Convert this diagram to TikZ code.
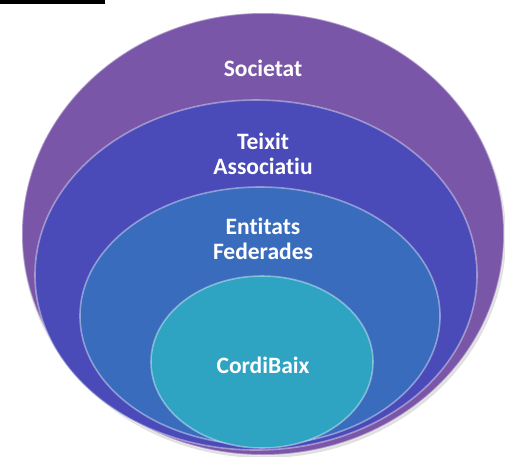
\documentclass[tikz,border=0pt]{standalone}
\usepackage{fontspec}
\setmainfont[Ligatures=NoCommon]{Carlito}
\usetikzlibrary{shapes.geometric}
\definecolor{socC}{HTML}{7A56A8}
\definecolor{teiC}{HTML}{4A4BB8}
\definecolor{entC}{HTML}{3A6CBE}
\definecolor{corC}{HTML}{2EA3C2}
\tikzset{
  ring/.style={ellipse, inner sep=0pt, draw=white, draw opacity=0.4, line width=1.6pt},
  lbl/.style={text=white, font=\fontsize{23.5}{25}\selectfont\bfseries, align=center, inner sep=0pt}
}
\begin{document}
\begin{tikzpicture}[x=1pt,y=-1pt]
\useasboundingbox (0,0) rectangle (505,456);
\fill[white] (0,0) rectangle (505,456);
\fill[black] (0,0) rectangle (105,3.5);
% soft shadow
\fill[black, opacity=0.12] (264,237) ellipse [x radius=242, y radius=221];
\node[ring, fill=socC, minimum width=482pt, minimum height=442pt] (soc) at (263,234) {};
\node[ring, fill=teiC, minimum width=442pt, minimum height=350pt] (tei) at (256,275) {};
\node[ring, fill=entC, minimum width=360pt, minimum height=258pt] (ent) at (260,316) {};
\node[ring, fill=corC, minimum width=222pt, minimum height=172pt] (cor) at (262,362) {};
\node[lbl] (tsoc) at (263,68) {Societat};
\node[lbl] (ttei) at (263,154) {Teixit\\Associatiu};
\node[lbl] (tent) at (263,239) {Entitats\\Federades};
\node[lbl] (tcor) at (263,365) {CordiBaix};
\end{tikzpicture}
\end{document}
